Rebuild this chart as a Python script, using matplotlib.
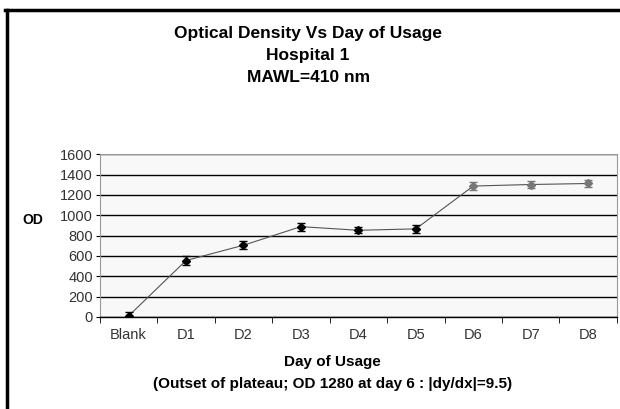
import matplotlib.pyplot as plt
import numpy as np

plt.rcParams['font.family'] = ['Liberation Sans', 'DejaVu Sans']

# data
days = ['Blank', 'D1', 'D2', 'D3', 'D4', 'D5', 'D6', 'D7', 'D8']
od = [10, 555, 705, 888, 852, 866, 1287, 1302, 1312]
od_err = [35, 40, 40, 40, 30, 40, 40, 35, 35]
marker_colors = ['black'] * 6 + ['#777777'] * 3

fig = plt.figure(figsize=(6.2, 4.09), dpi=100)
ax = fig.add_axes([0.161, 0.225, 0.834, 0.398])
ax.set_facecolor('#f8f8f8')

x = np.arange(len(days))
ax.plot(x, od, color='#555555', lw=0.8, zorder=3)
for xi, yi, ei, c in zip(x, od, od_err, marker_colors):
    ax.errorbar(xi, yi, yerr=ei, fmt='D', color=c, ms=4, capsize=3,
                elinewidth=1.0, capthick=1.0, zorder=4)

ax.set_xlim(-0.5, len(days) - 0.5)
ax.set_ylim(0, 1600)
ax.set_yticks(np.arange(0, 1601, 200))
ax.set_xticks(x)
ax.set_xticklabels(days, fontsize=10.5, color='#333333')
ax.set_xticks(np.arange(-0.5, len(days), 1), minor=True)
ax.tick_params(axis='x', which='major', length=0, pad=8)
ax.tick_params(axis='x', which='minor', length=4, direction='out', color='black')
ax.tick_params(axis='y', length=3, labelsize=10.5, labelcolor='#333333', pad=2)
ax.grid(axis='y', color='black', lw=1.0)
ax.set_axisbelow(True)

ax.spines['bottom'].set_color('black')
ax.spines['bottom'].set_linewidth(1.0)
for s in ['top', 'right', 'left']:
    ax.spines[s].set_color('#999999')
    ax.spines[s].set_linewidth(0.8)

# titles
fig.text(0.497, 0.918, 'Optical Density Vs Day of Usage', ha='center', va='center',
         fontsize=12.5, fontweight='bold')
fig.text(0.497, 0.865, 'Hospital 1', ha='center', va='center',
         fontsize=12.5, fontweight='bold')
fig.text(0.497, 0.811, 'MAWL=410 nm', ha='center', va='center',
         fontsize=12.5, fontweight='bold')
fig.text(0.053, 0.462, 'OD', ha='center', va='center', fontsize=10, fontweight='bold')
fig.text(0.536, 0.115, 'Day of Usage', ha='center', va='center', fontsize=11,
         fontweight='bold')
fig.text(0.537, 0.061, '(Outset of plateau; OD 1280 at day 6 : |dy/dx|=9.5)',
         ha='center', va='center', fontsize=11, fontweight='bold')

# frame lines on left and top
fig.add_artist(plt.Line2D([0.011, 0.011], [0.0, 0.975], color='black', lw=2.5))
fig.add_artist(plt.Line2D([0.008, 1.0], [0.975, 0.975], color='black', lw=2.5))

fig.savefig('out.png', dpi=100)
